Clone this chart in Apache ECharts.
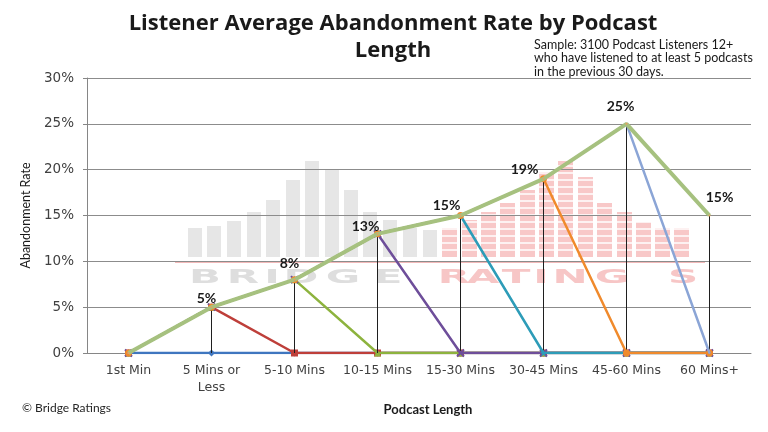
<!DOCTYPE html>
<html>
<head>
<meta charset="utf-8">
<script src="https://cdn.jsdelivr.net/npm/echarts@6/dist/echarts.min.js"></script>
<style>html,body{margin:0;padding:0;background:#fff}#c{width:768px;height:432px}</style>
</head>
<body>
<div id="c"></div>
<script>
// ---- data ----
const categories = ['1st Min', '5 Mins or\nLess', '5-10 Mins', '10-15 Mins', '15-30 Mins', '30-45 Mins', '45-60 Mins', '60 Mins+'];
const s1 = [0, 0, 0, 0, 0, 0, 0, 0];
const s2 = [0, 5, 0, 0, 0, 0, 0, 0];
const s3 = [0, 5, 8, 0, 0, 0, 0, 0];
const s4 = [0, 5, 8, 13, 0, 0, 0, 0];
const s5 = [0, 5, 8, 13, 15, 0, 0, 0];
const s6 = [0, 5, 8, 13, 15, 19, 0, 0];
const s7 = [0, 5, 8, 13, 15, 19, 25, 0];
const s8 = [0, 5, 8, 13, 15, 19, 25, 15];
const yTicks = [0, 5, 10, 15, 20, 25, 30];

// ---- styles ----
const colors = ['#3F76BF', '#BE3F3A', '#8DB33E', '#6E4E9A', '#2D9CB8', '#F08A2C', '#8BA5D6', '#A6C17F'];
const symbols = ['diamond', 'rect', 'triangle', 'path://M0,0L2,2M2,0L0,2', 'path://M5,0L6.2,3.8L10,3.8L7,6.2L8.1,10L5,7.6L1.9,10L3,6.2L0,3.8L3.8,3.8Z', 'circle', 'circle', 'circle'];
const allSeries = [s1, s2, s3, s4, s5, s6, s7, s8];
const labelOffsets = [[0,0], [-5,-1], [-5,-8], [-12,1], [-14,-2], [-19,-1], [-6,-9], [10,-10]];

const font = 'Lato, "Open Sans", sans-serif';
const axisFont = '"DejaVu Sans", Verdana, sans-serif';

// ---- watermark (decorative background logo) ----
const greyBars = [[188,228],[207,226],[227,221],[247,212],[266,200],[286,180],[305,161],[325,170],[344,190],[363,212],[383,220],[403,228],[423,230]];
const pinkBars = [[442,228],[462,220],[481,212],[500,203],[520,190],[539,172],[558,161],[578,177],[597,203],[617,212],[636,222],[655,228],[674,228]];
const wmLetters = [['B',205,'#DEDEDE'],['R',243,'#DEDEDE'],['I',272,'#DEDEDE'],['D',301,'#DEDEDE'],['G',343,'#DEDEDE'],['E',388,'#DEDEDE'],
  ['R',454,'#F7C6C6'],['A',483,'#F7C6C6'],['T',516,'#F7C6C6'],['I',541,'#F7C6C6'],['N',570,'#F7C6C6'],['G',612,'#F7C6C6'],['S',683,'#F7C6C6']];
const wmBase = 257;
const wm = [];
greyBars.forEach(b => wm.push({type:'rect', z:-5, silent:true, shape:{x:b[0], y:b[1], width:14, height:wmBase-b[1]}, style:{fill:'#E6E6E6'}}));
pinkBars.forEach(b => wm.push({type:'rect', z:-5, silent:true, shape:{x:b[0], y:b[1], width:15, height:wmBase-b[1]}, style:{fill:'#F8C8C8'}}));
for (let y = wmBase - 7; y > 160; y -= 7) {
  wm.push({type:'line', z:-4, silent:true, shape:{x1:440, y1:y, x2:692, y2:y}, style:{stroke:'#ffffff', lineWidth:1.5}});
}
wm.push({type:'line', z:-4, silent:true, shape:{x1:175, y1:262, x2:705, y2:262}, style:{stroke:'#F2B8B8', lineWidth:2}});
wmLetters.forEach(l => wm.push({type:'text', z:-4, silent:true, x:l[1], y:278, scaleX:2.1, originX:0, originY:0,
  style:{text:l[0], fill:l[2], font:'bold 20px "DejaVu Sans", sans-serif', textAlign:'center', textVerticalAlign:'middle'}}));

const chart = echarts.init(document.getElementById('c'), null, {renderer:'canvas'});

const series = allSeries.map((arr, k) => {
  const last = k === allSeries.length - 1;
  const s = {
    type: 'line',
    name: 'S' + (k + 1),
    data: last ? arr.map((v, i) => ({
      value: v,
      label: {show: i > 0, offset: labelOffsets[i]}
    })) : arr,
    symbol: symbols[k],
    symbolSize: last ? 2 : (k === 6 ? 2 : 7),
    showSymbol: true,
    itemStyle: {color: last ? '#E8A060' : colors[k], borderWidth: 0},
    lineStyle: {color: colors[k], width: last ? 4 : 2.5},
    z: 2 + k,
    animation: false
  };
  if (k === 3) { s.itemStyle = {color: colors[k], borderColor: colors[k], borderWidth: 2}; s.symbolSize = 7; }
  if (last) {
    s.label = {show: true, position: 'top', distance: 0, formatter: '{c}%', fontFamily: font, fontWeight: 'bold', fontSize: 14, color: '#1a1a1a'};
  }
  if (k === 0) {
    s.markLine = {
      silent: true, animation: false, symbol: ['none', 'none'],
      label: {show: false},
      lineStyle: {color: '#1f1f1f', width: 1, type: 'solid'},
      data: s8.map((v, i) => [{coord: [i, v]}, {coord: [i, 0]}]).filter((d, i) => s8[i] > 0)
    };
  }
  return s;
});

chart.setOption({
  backgroundColor: '#ffffff',
  animation: false,
  title: [{
    text: 'Listener Average Abandonment Rate by Podcast\nLength',
    left: 388, top: 5, textAlign: 'center',
    textStyle: {fontFamily: '"Open Sans", Lato, sans-serif', fontWeight: 'bold', fontSize: 22, color: '#1a1a1a', lineHeight: 27, align: 'center'}
  }],
  graphic: wm.concat([
    {type:'text', left: 534, top: 38, style:{text:'Sample: 3100 Podcast Listeners 12+\nwho have listened to at least 5 podcasts\nin the previous 30 days.', font:'12.5px Lato, sans-serif', fill:'#1a1a1a', lineHeight:13.5}},
    {type:'text', left: 22, top: 402, style:{text:'© Bridge Ratings', font:'12px Lato, sans-serif', fill:'#262626'}}
  ]),
  grid: {left: 87, right: 17, top: 78, bottom: 79, containLabel: false},
  xAxis: {
    type: 'category',
    data: categories,
    boundaryGap: true,
    name: 'Podcast Length',
    nameLocation: 'middle',
    nameGap: 50,
    nameTextStyle: {fontFamily: font, fontWeight: 'bold', fontSize: 13, color: '#1a1a1a', padding: [0, 0, 0, 18]},
    axisLine: {lineStyle: {color: '#868686'}},
    axisTick: {show: false},
    axisLabel: {fontFamily: axisFont, fontSize: 12.5, color: '#404040', margin: 9, lineHeight: 17, interval: 0}
  },
  yAxis: {
    type: 'value',
    min: yTicks[0], max: yTicks[yTicks.length - 1], interval: yTicks[1] - yTicks[0],
    name: 'Abandonment Rate',
    nameLocation: 'middle',
    nameRotate: 90,
    nameGap: 55,
    nameTextStyle: {fontFamily: font, fontSize: 12.5, color: '#1a1a1a'},
    axisLine: {show: true, lineStyle: {color: '#868686'}},
    axisTick: {show: true, length: 4, lineStyle: {color: '#868686'}},
    axisLabel: {formatter: '{value}%', fontFamily: axisFont, fontSize: 13.5, color: '#404040', margin: 13},
    splitLine: {lineStyle: {color: '#8C8C8C', width: 1}}
  },
  series: series
});
</script>
</body>
</html>
